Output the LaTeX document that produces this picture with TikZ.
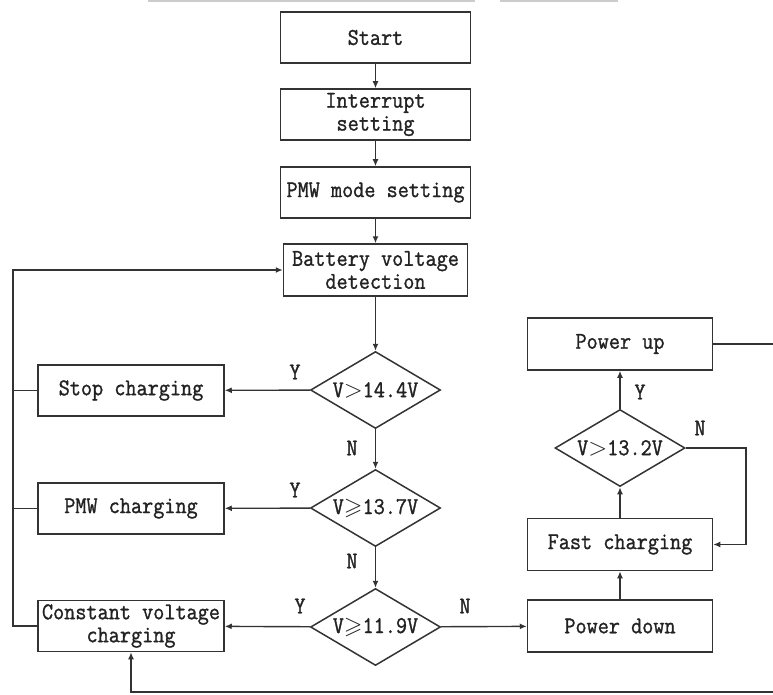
\documentclass[tikz,border=0pt]{standalone}
\usepackage{amssymb}
\usepackage{fontspec}
\newfontfamily\ff[FakeStretch=0.9,FakeBold=1.2]{Latin Modern Mono}
\usetikzlibrary{shapes.geometric,arrows.meta}
\definecolor{lc}{HTML}{333333}
\definecolor{tc}{HTML}{222222}
\begin{document}
\begin{tikzpicture}[x=1pt,y=-1pt,
  txt/.style={font=\ff\fontsize{24}{23}\selectfont, text=tc},
  box/.style={txt, draw=lc, line width=1.5pt, minimum height=51pt, inner sep=0pt, align=center, minimum width=#1},
  box/.default=186pt,
  dec/.style={txt, draw=lc, line width=1.5pt, diamond, shape aspect=1.7, inner sep=0pt, minimum width=130pt, minimum height=77pt},
  line/.style={draw=lc, line width=1.4pt},
  arr/.style={line, -{Latex[length=7pt,width=6pt]}},
  lbl/.style={txt}
]
\useasboundingbox (0,0) rectangle (773,695);
\draw[gray!40, line width=1.5pt] (148,1) -- (475,1) (500,1) -- (618,1);

% main column
\node[box=190pt] (start) at (375.5,37.5) {Start};
\node[box=190pt] (intr)  at (375.5,114.5) {Interrupt\\setting};
\node[box=190pt] (pmwm)  at (375.5,192.5) {PMW mode setting};
\node[box=184pt, minimum height=52pt] (bvd) at (375.5,270) {Battery voltage\\detection};
\node[dec] (d1) at (375.5,390) {V$>$14.4V};
\node[dec] (d2) at (375.5,508) {V$\geqslant$13.7V};
\node[dec] (d3) at (375.5,627) {V$\geqslant$11.9V};

% left column
\node[box] (stop) at (131,390.5) {Stop charging};
\node[box] (pmw)  at (131,508.5) {PMW charging};
\node[box] (cv)   at (131,626) {Constant voltage\\charging};

% right column
\node[box=185pt, minimum height=52pt] (pu) at (620,344) {Power up};
\node[dec] (d4) at (620,448) {V$>$13.2V};
\node[box=185pt, minimum height=52pt] (fc) at (620,544.5) {Fast charging};
\node[box=185pt, minimum height=52pt] (pd) at (620,626) {Power down};

% main flow
\draw[arr] (start) -- (intr);
\draw[arr] (intr) -- (pmwm);
\draw[arr] (pmwm) -- (bvd);
\draw[arr] (bvd) -- (d1);
\draw[arr] (d1) -- (d2);
\draw[arr] (d2) -- (d3);
\draw[arr] (d1) -- (stop);
\draw[arr] (d2) -- (pmw);
\draw[arr] (d3) -- (cv);
\draw[arr] (d3) -- (pd);
\draw[arr] (pd) -- (fc);
\draw[arr] (fc) -- (d4);
\draw[arr] (d4) -- (pu);

% N loop of V>13.2V
\coordinate (nr) at (746,448);
\draw[arr] (d4.east) -- (nr) |- (fc.east);

% left return loop
\coordinate (lb) at (13,626);
\draw[arr] (cv.west) -- (lb) |- (bvd.west);
\draw[line] (stop.west) -- (stop.west -| lb);
\draw[line] (pmw.west) -- (pmw.west -| lb);

% right/bottom return loop
\coordinate (rr) at (777,692);
\draw[arr] (pu.east) -| (rr) -| (cv.south);

% labels
\node[lbl] (y1) at (295,372) {Y};
\node[lbl] (y2) at (295,490) {Y};
\node[lbl] (y3) at (300,606) {Y};
\node[lbl] (n1) at (352,448) {N};
\node[lbl] (n2) at (352,561) {N};
\node[lbl] (n3) at (465,606) {N};
\node[lbl] (y4) at (640,392) {Y};
\node[lbl] (n4) at (700,428) {N};
\end{tikzpicture}
\end{document}
